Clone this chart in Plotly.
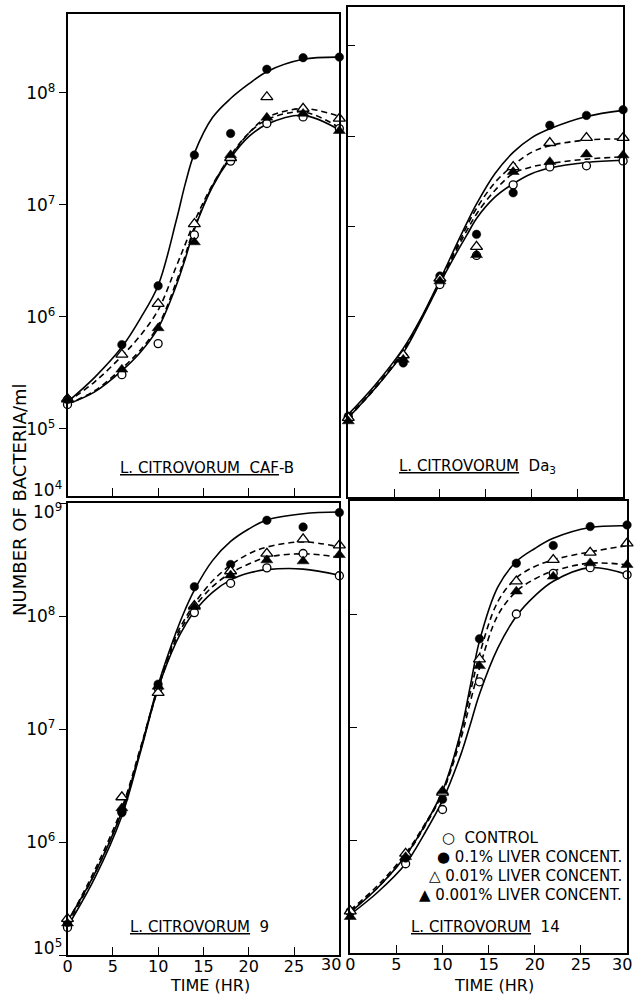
import plotly.graph_objects as go

# ---------------- data (log10 of bacteria/ml) ----------------
hours = [0, 6, 10, 14, 18, 22, 26, 30]
curve_hours = [0, 3, 6, 8, 10, 12, 13, 14, 16, 18, 20, 22, 26, 30]
series_names = ["CONTROL", "0.1 % LIVER CONCENT.", "0.01 % LIVER CONCENT.", "0.001 % LIVER CONCENT."]

# L. citrovorum CAF-B
cafb_control = [5.217, 5.484, 5.761, 6.732, 7.391, 7.727, 7.786, 7.682]
cafb_01 = [5.262, 5.752, 6.277, 7.445, 7.638, 8.211, 8.315, 8.320]
cafb_001 = [5.268, 5.663, 6.117, 6.830, 7.420, 7.964, 7.860, 7.771]
cafb_0001 = [5.260, 5.530, 5.900, 6.667, 7.445, 7.780, 7.815, 7.661]
cafb_fit_control = [5.22, 5.33, 5.52, 5.68, 5.90, 6.28, 6.52, 6.78, 7.16, 7.42, 7.61, 7.72, 7.80, 7.67]
cafb_fit_01 = [5.24, 5.46, 5.73, 5.98, 6.28, 6.86, 7.19, 7.46, 7.78, 7.95, 8.08, 8.19, 8.30, 8.32]
cafb_fit_001 = [5.24, 5.42, 5.65, 5.83, 6.06, 6.45, 6.65, 6.85, 7.18, 7.43, 7.64, 7.78, 7.86, 7.79]
cafb_fit_0001 = [5.22, 5.34, 5.54, 5.70, 5.92, 6.31, 6.55, 6.80, 7.17, 7.44, 7.64, 7.76, 7.83, 7.69]

# L. citrovorum Da3
da3_control = [5.100, 5.650, 6.290, 6.550, 7.180, 7.340, 7.350, 7.394]
da3_01 = [5.113, 5.590, 6.366, 6.738, 7.109, 7.712, 7.800, 7.851]
da3_001 = [5.100, 5.660, 6.345, 6.628, 7.340, 7.555, 7.600, 7.600]
da3_0001 = [5.070, 5.620, 6.320, 6.554, 7.296, 7.385, 7.453, 7.445]
da3_fit_control = [5.10, 5.37, 5.68, 5.98, 6.30, 6.60, 6.74, 6.88, 7.07, 7.19, 7.28, 7.33, 7.38, 7.40]
da3_fit_01 = [5.13, 5.40, 5.72, 6.00, 6.33, 6.68, 6.85, 7.01, 7.28, 7.47, 7.60, 7.68, 7.79, 7.845]
da3_fit_001 = [5.11, 5.38, 5.70, 5.99, 6.32, 6.65, 6.82, 6.97, 7.20, 7.355, 7.47, 7.53, 7.58, 7.59]
da3_fit_0001 = [5.10, 5.37, 5.69, 5.99, 6.31, 6.63, 6.78, 6.92, 7.13, 7.28, 7.34, 7.37, 7.41, 7.43]

# L. citrovorum 9
c9_control = [5.244, 6.270, 7.360, 8.030, 8.290, 8.426, 8.553, 8.356]
c9_01 = [5.288, 6.259, 7.397, 8.259, 8.456, 8.847, 8.788, 8.915]
c9_001 = [5.320, 6.397, 7.320, 8.090, 8.397, 8.553, 8.680, 8.626]
c9_0001 = [5.280, 6.300, 7.376, 8.080, 8.360, 8.494, 8.485, 8.540]
c9_fit_control = [5.25, 5.68, 6.23, 6.78, 7.36, 7.77, 7.92, 8.04, 8.21, 8.32, 8.38, 8.41, 8.415, 8.36]
c9_fit_01 = [5.30, 5.72, 6.27, 6.80, 7.39, 7.86, 8.06, 8.23, 8.49, 8.66, 8.77, 8.85, 8.905, 8.92]
c9_fit_001 = [5.29, 5.75, 6.30, 6.82, 7.37, 7.83, 7.98, 8.11, 8.31, 8.45, 8.55, 8.61, 8.656, 8.61]
c9_fit_0001 = [5.27, 5.72, 6.27, 6.80, 7.36, 7.80, 7.95, 8.08, 8.26, 8.38, 8.46, 8.52, 8.55, 8.52]

# L. citrovorum 14
c14_control = [5.360, 5.790, 6.270, 7.400, 8.000, 8.360, 8.410, 8.347]
c14_01 = [5.370, 5.840, 6.360, 7.780, 8.450, 8.606, 8.774, 8.788]
c14_001 = [5.370, 5.880, 6.420, 7.600, 8.290, 8.480, 8.544, 8.626]
c14_0001 = [5.320, 5.850, 6.435, 7.540, 8.200, 8.332, 8.450, 8.435]
c14_fit_control = [5.34, 5.54, 5.79, 6.05, 6.35, 6.76, 7.02, 7.29, 7.70, 7.98, 8.16, 8.29, 8.41, 8.35]
c14_fit_01 = [5.36, 5.58, 5.86, 6.12, 6.435, 6.965, 7.36, 7.76, 8.24, 8.465, 8.58, 8.67, 8.765, 8.78]
c14_fit_001 = [5.38, 5.60, 5.88, 6.13, 6.42, 6.95, 7.30, 7.64, 8.11, 8.32, 8.42, 8.48, 8.55, 8.606]
c14_fit_0001 = [5.37, 5.58, 5.86, 6.11, 6.42, 6.90, 7.22, 7.52, 7.99, 8.20, 8.31, 8.38, 8.45, 8.435]

strain_labels = ["<u>L. CITROVORUM  CAF</u>-B", "<u>L. CITROVORUM</u>  Da<sub>3</sub>",
                 "<u>L. CITROVORUM</u>  9", "<u>L. CITROVORUM</u>  14"]
x_ticks = [0, 5, 10, 15, 20, 25, 30]
# the two "30" labels are drawn separately (nudged left, as in the original)
x_ticktext = ["0", "5", "10", "15", "20", "25", ""]
top_left_ticks = [1e5, 1e6, 1e7, 1e8]
top_left_ticktext = ["10<sup>5</sup>", "10<sup>6</sup>", "10<sup>7</sup>", "10<sup>8</sup>"]
bottom_left_ticks = [1e5, 1e6, 1e7, 1e8, 1e9]
bottom_left_ticktext = ["", "10<sup>6</sup>", "10<sup>7</sup>", "10<sup>8</sup>", ""]
top_right_ticks = [2.63e8, 4.13e7, 6.37e6, 1.02e6]
bottom_right_ticks = [1e6, 1e7, 1e8]
corner_labels = ["10<sup>4</sup>", "10<sup>9</sup>", "10<sup>5</sup>"]

# ---------------- figure ----------------
W, H = 636, 994
FONT = "DejaVu Sans"


def dx(a, b):
    return [a / W, b / W]


def dy(top, bottom):
    return [1 - bottom / H, 1 - top / H]


panels = [
    dict(points=[cafb_control, cafb_01, cafb_001, cafb_0001],
         fits=[cafb_fit_control, cafb_fit_01, cafb_fit_001, cafb_fit_0001],
         xd=dx(63, 337), yd=dy(14, 496), yr=[4.40, 8.705]),
    dict(points=[da3_control, da3_01, da3_001, da3_0001],
         fits=[da3_fit_control, da3_fit_01, da3_fit_001, da3_fit_0001],
         xd=dx(346, 623), yd=dy(7, 497), yr=[4.393, 8.768]),
    dict(points=[c9_control, c9_01, c9_001, c9_0001],
         fits=[c9_fit_control, c9_fit_01, c9_fit_001, c9_fit_0001],
         xd=dx(63, 337), yd=dy(503, 955), yr=[5.0, 9.0]),
    dict(points=[c14_control, c14_01, c14_001, c14_0001],
         fits=[c14_fit_control, c14_fit_01, c14_fit_001, c14_fit_0001],
         xd=dx(348, 627), yd=dy(501, 953), yr=[5.0, 9.0]),
]

marker_styles = [
    dict(symbol="circle", size=8, color="white", line=dict(width=1.3, color="black")),
    dict(symbol="circle", size=8.5, color="black", line=dict(width=0.5, color="black")),
    dict(symbol="triangle-up", size=10.5, color="white", line=dict(width=1.3, color="black")),
    dict(symbol="triangle-up", size=10.5, color="black", line=dict(width=0.5, color="black")),
]
line_dash = ["solid", "solid", "6px,4px", "6px,4px"]

fig = go.Figure()
layout = dict(width=W, height=H, margin=dict(l=0, r=0, t=0, b=0),
              paper_bgcolor="white", plot_bgcolor="white", showlegend=False,
              font=dict(family=FONT, color="black"))

for i, p in enumerate(panels):
    n = "" if i == 0 else str(i + 1)
    xa, ya = "x" + n, "y" + n
    for k in range(4):
        fig.add_trace(go.Scatter(
            x=curve_hours, y=[10 ** v for v in p["fits"][k]], mode="lines",
            line=dict(color="black", width=1.6, dash=line_dash[k], shape="spline", smoothing=1.0),
            xaxis=xa, yaxis=ya, hoverinfo="skip"))
    for k in range(4):
        fig.add_trace(go.Scatter(
            x=hours, y=[10 ** v for v in p["points"][k]], mode="markers", marker=marker_styles[k],
            name=series_names[k], cliponaxis=False, xaxis=xa, yaxis=ya))

    left = i in (0, 2)
    bottom = i in (2, 3)
    xtt = x_ticktext if bottom else [""] * len(x_ticks)
    layout["xaxis" + n] = dict(
        domain=p["xd"], anchor=ya, range=[0, 30], tickvals=x_ticks, ticktext=xtt,
        ticks="inside", ticklen=8, tickwidth=1.3, tickcolor="black", ticklabelstandoff=-4,
        showline=True, linecolor="black", linewidth=1.5, mirror=True,
        showgrid=False, zeroline=False, tickfont=dict(size=16, family=FONT))
    if i == 0:
        yt, ytt = top_left_ticks, top_left_ticktext
    elif i == 2:
        yt, ytt = bottom_left_ticks, bottom_left_ticktext
    elif i == 1:
        yt, ytt = top_right_ticks, [""] * len(top_right_ticks)
    else:
        yt, ytt = bottom_right_ticks, [""] * len(bottom_right_ticks)
    layout["yaxis" + n] = dict(
        domain=p["yd"], anchor=xa, type="log", range=p["yr"], tickvals=yt, ticktext=ytt,
        ticks="outside" if left else "inside", ticklen=7, tickwidth=1.3, tickcolor="black",
        showline=True, linecolor="black", linewidth=1.5, mirror=True,
        showgrid=False, zeroline=False, tickfont=dict(size=17, family=FONT))

annotations = []
label_pos = [(204, 468), (476, 466), (196, 927), (484, 927)]
for (lx, ly), txt in zip(label_pos, strain_labels):
    annotations.append(dict(xref="paper", yref="paper", x=lx / W, y=1 - ly / H, text=txt,
                            showarrow=False, xanchor="center", yanchor="middle",
                            font=dict(size=15, family=FONT)))
for txt, ly in zip(corner_labels, [489, 511, 947]):
    annotations.append(dict(xref="paper", yref="paper", x=59 / W, y=1 - ly / H, text=txt,
                            showarrow=False, xanchor="right", yanchor="middle",
                            font=dict(size=17, family=FONT)))
for rx in (341, 634):
    annotations.append(dict(xref="paper", yref="paper", x=rx / W, y=1 - 964 / H, text=str(x_ticks[-1]),
                            showarrow=False, xanchor="right", yanchor="middle",
                            font=dict(size=16, family=FONT)))
annotations.append(dict(xref="paper", yref="paper", x=15 / W, y=1 - 500 / H, text="NUMBER OF BACTERIA/ml",
                        textangle=-90, showarrow=False, xanchor="center", yanchor="middle",
                        font=dict(size=18, family=FONT)))
for cx in (207, 493):
    annotations.append(dict(xref="paper", yref="paper", x=cx / W, y=1 - 985 / H, text="TIME (HR)",
                            showarrow=False, xanchor="center", yanchor="middle",
                            font=dict(size=16, family=FONT)))
legend_syms = ["○", "●", "△", "▲"]
annotations.append(dict(xref="paper", yref="paper", x=438 / W, y=1 - 838 / H,
                        text=legend_syms[0] + "  " + series_names[0], showarrow=False,
                        xanchor="left", yanchor="middle", font=dict(size=15, family=FONT)))
for k, ly in zip([1, 2, 3], [857, 876, 895]):
    annotations.append(dict(xref="paper", yref="paper", x=624 / W, y=1 - ly / H,
                            text=legend_syms[k] + " " + series_names[k].replace(" %", "%"),
                            showarrow=False, xanchor="right", yanchor="middle",
                            font=dict(size=15, family=FONT)))
layout["annotations"] = annotations

fig.update_layout(**layout)
fig.write_html("out.html")
